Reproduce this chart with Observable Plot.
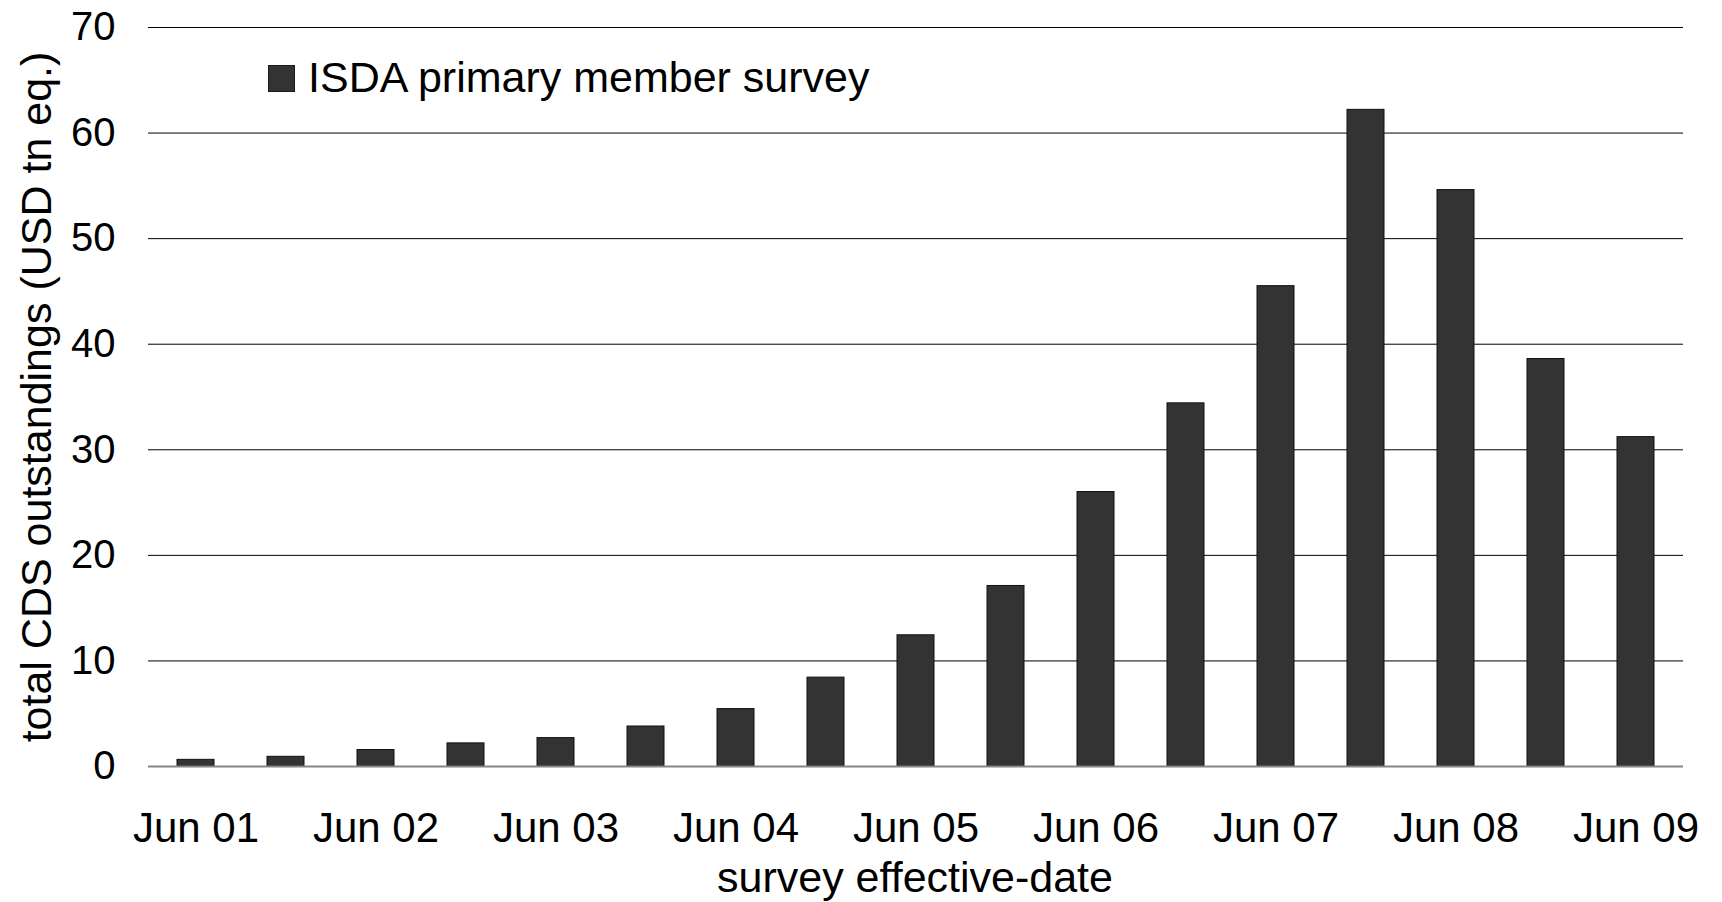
<!DOCTYPE html>
<html>
<head>
<meta charset="utf-8">
<script src="https://cdn.jsdelivr.net/npm/d3@7"></script>
<script src="https://cdn.jsdelivr.net/npm/@observablehq/plot@0.6"></script>
<style>
  html, body { margin: 0; padding: 0; background: #fff; }
  #wrap { position: relative; width: 1722px; height: 902px; font-family: "Liberation Sans", Arial, sans-serif; }
  #legend { position: absolute; left: 268px; top: 56.8px; height: 40px; line-height: 40px; font-size: 43px; color: #000; white-space: nowrap; }
  #legend .sw { position: absolute; left: 0; top: 8.2px; width: 27px; height: 27px; background: #333; border: 1px solid #1a1a1a; box-sizing: border-box; }
  #legend .lbl { position: absolute; left: 40px; top: 0; }
</style>
</head>
<body>
<div id="wrap">
  <div id="chart"></div>
  <div id="legend"><span class="sw"></span><span class="lbl">ISDA primary member survey</span></div>
</div>
<script>
const periods = ["Jun 01","Dec 01","Jun 02","Dec 02","Jun 03","Dec 03","Jun 04","Dec 04","Jun 05","Dec 05","Jun 06","Dec 06","Jun 07","Dec 07","Jun 08","Dec 08","Jun 09"];
const outstandings = [0.63, 0.92, 1.56, 2.19, 2.69, 3.79, 5.44, 8.42, 12.43, 17.1, 26.0, 34.4, 45.5, 62.2, 54.6, 38.6, 31.2];
const xTickLabels = ["Jun 01","Jun 02","Jun 03","Jun 04","Jun 05","Jun 06","Jun 07","Jun 08","Jun 09"];
const yTicks = [0, 10, 20, 30, 40, 50, 60, 70];
const xTitle = "survey effective-date";
const yTitle = "total CDS outstandings (USD tn eq.)";

const data = periods.map((p, i) => ({period: p, value: outstandings[i]}));

const chart = Plot.plot({
  width: 1722,
  height: 902,
  marginTop: 27,
  marginBottom: 136,
  marginLeft: 148,
  marginRight: 39,
  style: {fontFamily: '"Liberation Sans", Arial, sans-serif', fontSize: "40px", color: "#000", background: "#fff"},
  x: {domain: periods, paddingInner: 0.593, paddingOuter: 0.2965, align: 0.5, label: null},
  y: {domain: [0, 70], label: null},
  marks: [
    Plot.gridY(yTicks.filter(d => d > 0), {stroke: "#000", strokeOpacity: 1, strokeWidth: 1}),
    Plot.barY(data, {x: "period", y: "value", fill: "#333333", stroke: "#111", strokeWidth: 1}),
    Plot.ruleY([0], {stroke: "#868686", strokeWidth: 2}),
    Plot.axisY({ticks: yTicks, tickSize: 0, tickPadding: 33, label: null, fontSize: 40}),
    Plot.axisX({ticks: xTickLabels, tickSize: 0, tickPadding: 46, label: null, fontSize: 42}),
    Plot.text([xTitle], {frameAnchor: "bottom", lineAnchor: "bottom", textAnchor: "middle", dy: 125, dx: -1, fontSize: 43, fill: "#000"}),
    Plot.text([yTitle], {frameAnchor: "left", lineAnchor: "bottom", textAnchor: "middle", rotate: -90, dx: -98, dy: 0, fontSize: 43, fill: "#000"})
  ]
});
document.getElementById("chart").appendChild(chart);
</script>
</body>
</html>
